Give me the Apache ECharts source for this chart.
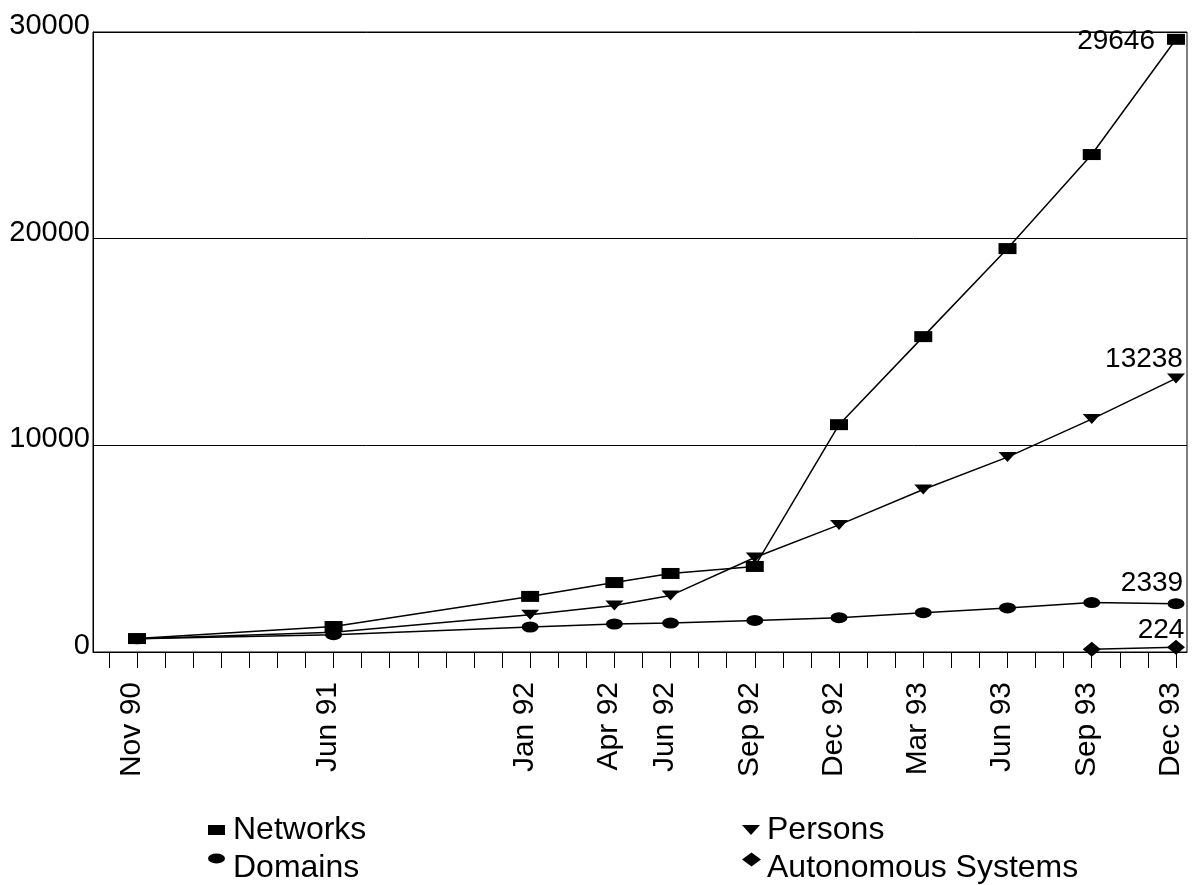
<!DOCTYPE html>
<html>
<head>
<meta charset="utf-8">
<script src="https://cdn.jsdelivr.net/npm/echarts@6/dist/echarts.min.js"></script>
<style>html,body{margin:0;padding:0;background:#fff}#c{width:1193px;height:885px}</style>
</head>
<body>
<div id="c"></div>
<script>
const categories = ['Nov 90','Jun 91','Jan 92','Apr 92','Jun 92','Sep 92','Dec 92','Mar 93','Jun 93','Sep 93','Dec 93'];
const networks   = [650, 1234, 2690, 3360, 3800, 4140, 11000, 15260, 19520, 24070, 29646];
const persons    = [640, 950, 1800, 2250, 2730, 4570, 6150, 7860, 9430, 11270, 13238];
const domains    = [640, 840, 1210, 1355, 1400, 1525, 1660, 1900, 2130, 2390, 2339];
const autonomous = [null, null, null, null, null, null, null, null, null, 130, 224];
const yTicks = [0, 10000, 20000, 30000];

const MONTHS = ['Jan','Feb','Mar','Apr','May','Jun','Jul','Aug','Sep','Oct','Nov','Dec'];
function monthIndex(lbl){
  const [m, y] = lbl.split(' ');
  return (1900 + parseInt(y,10) - 1990) * 12 + MONTHS.indexOf(m) - 10;
}
const xs = categories.map(monthIndex);
const labelByIndex = {};
categories.forEach((c,i)=>{ labelByIndex[xs[i]] = c; });
const tickVals = [];
for (let v = -1; v <= xs[xs.length-1]; v++) tickVals.push(v);

function pairs(arr){ return arr.map((v,i)=> v == null ? null : [xs[i], v]).filter(p=>p); }

const FONT = 'Liberation Sans, Arial, sans-serif';
const ELLIPSE = 'path://M0,1A1,1 0 1,0 2,1A1,1 0 1,0 0,1Z';
const TRI = 'path://M0,0L20,0L10,11Z';
// legend icons raised above the text centre (degenerate segment at bottom pads the box)
const ELLIPSE_UP = 'path://M0,5A8.5,5 0 1,0 17,5A8.5,5 0 1,0 0,5ZM8.5,29L8.5,28.95Z';
const DIAMOND_UP = 'path://M9.5,0L19,7L9.5,14L0,7ZM9.5,31L9.5,30.95Z';

function lastOnly(n){ return p => (p.dataIndex === n - 1 ? String(p.value[1]) : ''); }

const lineStyle = { color: '#000', width: 1.5 };
const itemStyle = { color: '#000' };

const chart = echarts.init(document.getElementById('c'), null, { renderer: 'canvas' });
chart.setOption({
  animation: false,
  backgroundColor: '#fff',
  textStyle: { fontFamily: FONT, color: '#000' },
  grid: { left: 93, top: 32, right: 6, bottom: 233, show: true, borderColor: '#000', borderWidth: 1, containLabel: false },
  xAxis: {
    type: 'value', min: -1.567, max: 37.392,
    axisLine: { show: true, onZero: false, lineStyle: { color: '#000', width: 1 } },
    axisTick: { show: true, length: 16, lineStyle: { color: '#000', width: 1 }, customValues: tickVals },
    axisLabel: {
      show: true, rotate: 90, margin: 30, fontSize: 30, color: '#000', fontFamily: FONT,
      verticalAlign: 'bottom', lineHeight: 11,
      customValues: xs, formatter: v => labelByIndex[v] || ''
    },
    splitLine: { show: false }
  },
  yAxis: {
    type: 'value', min: yTicks[0], max: yTicks[yTicks.length-1], interval: 10000,
    axisLine: { show: true, onZero: false, lineStyle: { color: '#000', width: 1 } },
    axisTick: { show: false },
    axisLabel: { margin: 3, fontSize: 29, color: '#000', fontFamily: FONT, verticalAlign: 'bottom', lineHeight: 12,
      formatter: v => String(v) },
    splitLine: { show: true, lineStyle: { color: '#000', width: 1 } }
  },
  legend: [
    { data: [{ name: 'Networks', icon: 'rect' }], left: 208, top: 814, padding: 0, itemWidth: 17, itemHeight: 10, itemGap: 0, symbolKeepAspect: false, selectedMode: false,
      textStyle: { fontSize: 32, color: '#000', fontFamily: FONT, padding: [0,0,0,3] } },
    { data: [{ name: 'Persons', icon: TRI }], left: 742, top: 814, padding: 0, itemWidth: 18, itemHeight: 10, itemGap: 0, symbolKeepAspect: false, selectedMode: false,
      textStyle: { fontSize: 32, color: '#000', fontFamily: FONT, padding: [0,0,0,2] } },
    { data: [{ name: 'Domains', icon: ELLIPSE_UP }], left: 208, top: 852, padding: 0, itemWidth: 17, itemHeight: 29, itemGap: 0, symbolKeepAspect: false, selectedMode: false,
      textStyle: { fontSize: 32, color: '#000', fontFamily: FONT, padding: [0,0,0,3] } },
    { data: [{ name: 'Autonomous Systems', icon: DIAMOND_UP }], left: 742, top: 852, padding: 0, itemWidth: 19, itemHeight: 31, itemGap: 0, symbolKeepAspect: false, selectedMode: false,
      textStyle: { fontSize: 32, color: '#000', fontFamily: FONT, padding: [0,0,0,1] } }
  ],
  series: [
    { name: 'Autonomous Systems', type: 'line', z: 2, data: pairs(autonomous), symbol: 'diamond', symbolSize: [18,15],
      lineStyle, itemStyle,
      label: { show: true, position: 'top', distance: -4, offset: [-15, 0], fontSize: 28, color: '#000', fontFamily: FONT, formatter: lastOnly(2) } },
    { name: 'Domains', type: 'line', z: 3, data: pairs(domains), symbol: ELLIPSE, symbolSize: [17,11],
      lineStyle, itemStyle,
      label: { show: true, position: 'top', distance: 1, offset: [-24, 0], fontSize: 28, color: '#000', fontFamily: FONT, formatter: lastOnly(domains.length) } },
    { name: 'Persons', type: 'line', z: 4, data: pairs(persons), symbol: TRI, symbolSize: [18,10],
      lineStyle, itemStyle,
      label: { show: true, position: 'top', distance: 0, offset: [-32, 0], fontSize: 28, color: '#000', fontFamily: FONT, formatter: lastOnly(persons.length) } },
    { name: 'Networks', type: 'line', z: 5, data: pairs(networks), symbol: 'rect', symbolSize: [18,11],
      lineStyle, itemStyle,
      label: { show: true, position: 'left', distance: 9, offset: [-3, 2], fontSize: 28, color: '#000', fontFamily: FONT, formatter: lastOnly(networks.length) } }
  ]
});
</script>
</body>
</html>
